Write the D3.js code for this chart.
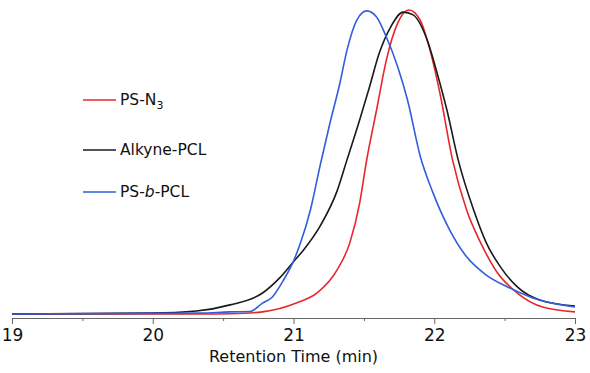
<!DOCTYPE html>
<html>
<head>
<meta charset="utf-8">
<script src="https://cdn.jsdelivr.net/npm/d3@7"></script>
<style>
  body { margin: 0; background: #fff; }
  svg { display: block; font-family: "DejaVu Sans", sans-serif; }
</style>
</head>
<body>
<svg width="590" height="373"></svg>
<script>
// retention time (min), normalized detector signal
const psN3 = [
  [19, 0], [20.34, 0], [20.55, 0.001], [20.78, 0.007], [21.02, 0.036],
  [21.17, 0.07], [21.31, 0.145], [21.4, 0.234], [21.47, 0.365],
  [21.52, 0.507], [21.59, 0.671], [21.66, 0.836], [21.74, 0.957],
  [21.82, 1.0], [21.9, 0.967], [21.97, 0.868], [22.04, 0.727],
  [22.13, 0.507], [22.23, 0.342], [22.33, 0.234], [22.45, 0.135],
  [22.59, 0.069], [22.77, 0.023], [23, 0.007]
];
const alkynePCL = [
  [19, 0], [19.98, 0.003], [20.31, 0.01], [20.55, 0.03], [20.78, 0.069],
  [20.9, 0.118], [21.0, 0.172], [21.07, 0.21], [21.19, 0.29],
  [21.31, 0.405], [21.38, 0.507], [21.47, 0.638], [21.54, 0.747],
  [21.61, 0.859], [21.69, 0.944], [21.78, 0.993], [21.85, 0.984],
  [21.95, 0.901], [22.02, 0.793], [22.09, 0.671], [22.17, 0.507],
  [22.28, 0.342], [22.37, 0.234], [22.47, 0.155], [22.59, 0.089],
  [22.75, 0.046], [23, 0.026]
];
const psbPCL = [
  [19, 0], [20.34, 0.003], [20.55, 0.007], [20.69, 0.008], [20.78, 0.036],
  [20.85, 0.056], [20.9, 0.089], [20.93, 0.112], [21.0, 0.174],
  [21.05, 0.234], [21.12, 0.342], [21.19, 0.49], [21.26, 0.63],
  [21.33, 0.76], [21.38, 0.868], [21.45, 0.967], [21.52, 0.997],
  [21.59, 0.977], [21.66, 0.911], [21.74, 0.813], [21.81, 0.704],
  [21.9, 0.52], [21.99, 0.4], [22.11, 0.276],
  [22.23, 0.188], [22.37, 0.128], [22.52, 0.089], [22.7, 0.053],
  [23, 0.023]
];
const seriesNames = ["PS-N3", "Alkyne-PCL", "PS-b-PCL"];
const colors = ["#e8262b", "#1a1a1a", "#2f5fdc"];
const majorTicks = [19, 20, 21, 22, 23];
const minorTicks = [19.5, 20.5, 21.5, 22.5];

const svg = d3.select("svg");
const area = { left: 12, right: 575, axisY: 318, top: 10, base: 314 };

const scX = d3.scaleLinear().domain([19, 23]).range([area.left, area.right]);
const scY = d3.scaleLinear().domain([0, 1]).range([area.base, area.top]);

// x axis
const axisX = d3.axisBottom(scX).tickValues(majorTicks).tickSize(6).tickPadding(5)
  .tickFormat(d3.format("d"));
const gx = svg.append("g").attr("transform", `translate(0, ${area.axisY})`).call(axisX);
gx.select(".domain").attr("stroke", "#666");
gx.selectAll(".tick line").attr("stroke", "#666");
gx.selectAll("text").style("font-size", "17px").attr("fill", "#111")
  .style("font-family", "DejaVu Sans, sans-serif");

svg.append("g").attr("transform", `translate(0, ${area.axisY})`)
  .call(d3.axisBottom(scX).tickValues(minorTicks).tickSize(3).tickFormat(""))
  .call((g) => g.select(".domain").remove())
  .selectAll(".tick line").attr("stroke", "#666");

svg.append("text")
  .attr("x", (area.left + area.right) / 2)
  .attr("y", 362)
  .attr("text-anchor", "middle")
  .style("font-size", "16px")
  .attr("fill", "#111")
  .text("Retention Time (min)");

// curves
const line = d3.line()
  .x((d) => scX(d[0]))
  .y((d) => scY(d[1]))
  .curve(d3.curveMonotoneX);

[psN3, alkynePCL, psbPCL].forEach((data, i) => {
  svg.append("path")
    .datum(data)
    .attr("d", line)
    .style("fill", "none")
    .style("stroke", colors[i])
    .style("stroke-width", 1.6);
});

// legend
const legendY = [100, 150, 192];
const legend = svg.append("g");
seriesNames.forEach((name, i) => {
  legend.append("line")
    .attr("x1", 83).attr("x2", 116)
    .attr("y1", legendY[i]).attr("y2", legendY[i])
    .style("stroke", colors[i])
    .style("stroke-width", 1.4);
  const t = legend.append("text")
    .attr("x", 120)
    .attr("y", legendY[i] + 5)
    .style("font-size", "15.5px")
    .attr("fill", "#111");
  if (i === 0) {
    t.append("tspan").text("PS-N");
    t.append("tspan").attr("dy", 4).style("font-size", "11px").text("3");
  } else if (i === 2) {
    t.append("tspan").text("PS-");
    t.append("tspan").style("font-style", "italic").text("b");
    t.append("tspan").text("-PCL");
  } else {
    t.text(name);
  }
});
</script>
</body>
</html>
